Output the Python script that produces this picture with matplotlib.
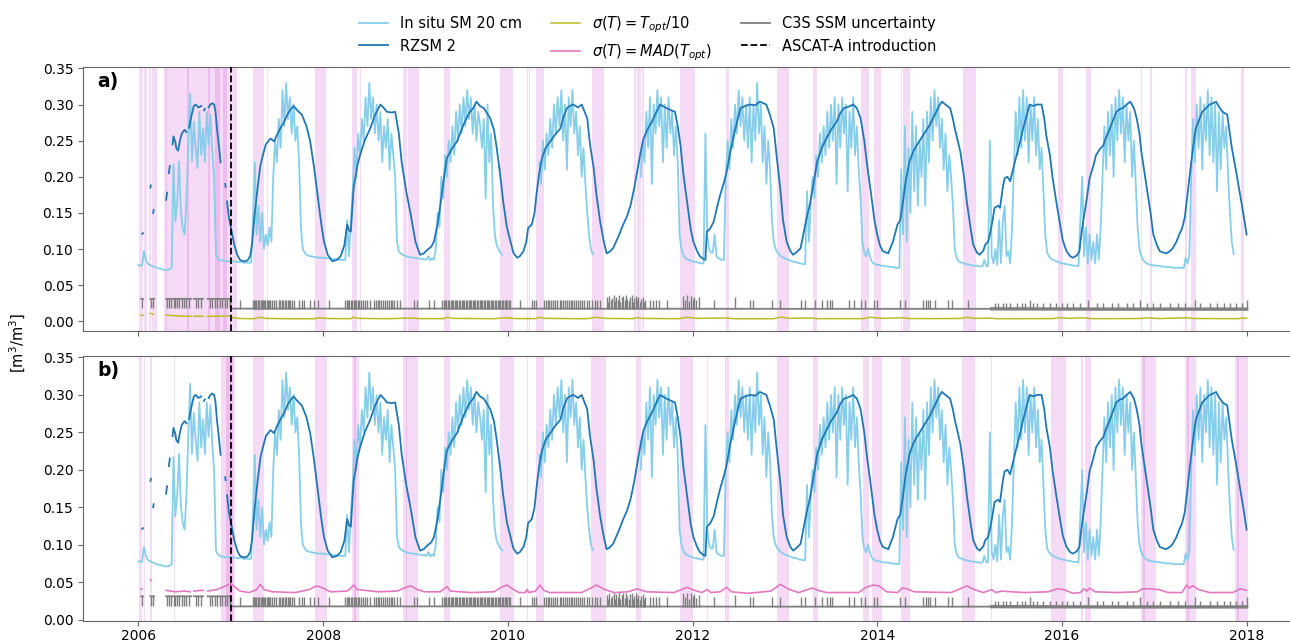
import numpy as np
import matplotlib
matplotlib.use('Agg')
import matplotlib.pyplot as plt

nan = np.nan

# in situ soil moisture at 20 cm, one row per year, one value every 0.02 yr
insitu_years = list(range(2006, 2018))
insitu_sm = [
    # 2006
    0.078, 0.077, 0.077, 0.097, 0.086, 0.080, 0.078, 0.077, 0.076, 0.075,
    0.074, 0.073, 0.073, 0.072, 0.071, 0.071, 0.071, 0.072, 0.074, 0.217,
    0.138, 0.166, 0.221, 0.152, 0.129, 0.120, 0.166, 0.244, 0.315, 0.221,
    0.276, 0.240, 0.212, 0.290, 0.230, 0.267, 0.221, 0.290, 0.244, 0.286,
    0.235, 0.198, 0.092, 0.087, 0.085, 0.084, 0.084, 0.083, 0.083, 0.083,
    # 2007
    0.083, 0.083, 0.083, 0.082, 0.082, 0.082, 0.082, 0.081, 0.081, 0.081,
    0.081, 0.081, 0.140, 0.220, 0.120, 0.160, 0.110, 0.150, 0.100, 0.120,
    0.105, 0.130, 0.110, 0.200, 0.250, 0.220, 0.280, 0.240, 0.320, 0.270,
    0.330, 0.280, 0.310, 0.260, 0.300, 0.250, 0.270, 0.220, 0.130, 0.100,
    0.095, 0.092, 0.091, 0.090, 0.090, 0.089, 0.089, 0.088, 0.088, 0.088,
    # 2008
    0.088, 0.088, 0.087, 0.087, 0.087, 0.086, 0.086, 0.086, 0.086, 0.085,
    0.085, 0.085, 0.085, 0.140, 0.090, 0.140, 0.180, 0.240, 0.200, 0.260,
    0.230, 0.280, 0.250, 0.310, 0.270, 0.330, 0.280, 0.310, 0.260, 0.300,
    0.250, 0.290, 0.220, 0.270, 0.240, 0.280, 0.210, 0.260, 0.230, 0.200,
    0.110, 0.097, 0.094, 0.092, 0.091, 0.090, 0.089, 0.089, 0.088, 0.088,
    # 2009
    0.088, 0.087, 0.087, 0.086, 0.086, 0.086, 0.085, 0.090, 0.084, 0.087,
    0.085, 0.100, 0.150, 0.130, 0.200, 0.170, 0.230, 0.200, 0.250, 0.220,
    0.270, 0.230, 0.290, 0.250, 0.300, 0.260, 0.310, 0.270, 0.320, 0.280,
    0.310, 0.260, 0.300, 0.250, 0.290, 0.270, 0.240, 0.280, 0.170, 0.300,
    0.220, 0.260, 0.160, 0.120, 0.105, 0.100, 0.095, 0.092, nan, nan,
    # 2010
    nan, nan, nan, nan, nan, nan, nan, nan, nan, nan,
    nan, nan, nan, nan, nan, nan, nan, 0.220, 0.190, 0.250,
    0.210, 0.260, 0.230, 0.280, 0.240, 0.300, 0.260, 0.310, 0.270, 0.320,
    0.250, 0.300, 0.210, 0.310, 0.270, 0.320, 0.260, 0.290, 0.230, 0.270,
    0.200, 0.240, 0.190, 0.150, 0.120, 0.100, 0.093, nan, nan, nan,
    # 2011
    nan, nan, nan, nan, nan, nan, nan, nan, nan, nan,
    nan, nan, nan, nan, nan, nan, nan, nan, nan, nan,
    nan, nan, 0.200, 0.250, 0.220, 0.290, 0.240, 0.310, 0.190, 0.300,
    0.260, 0.320, 0.270, 0.310, 0.220, 0.300, 0.240, 0.310, 0.260, 0.290,
    0.230, 0.270, 0.220, 0.120, 0.100, 0.092, 0.088, 0.086, 0.085, 0.084,
    # 2012
    0.083, 0.082, 0.082, 0.081, 0.081, 0.080, 0.080, 0.260, 0.120, 0.100,
    0.095, 0.095, 0.120, 0.090, 0.087, 0.086, 0.085, 0.085, 0.200, 0.250,
    0.210, 0.280, 0.240, 0.300, 0.260, 0.320, 0.270, 0.310, 0.250, 0.300,
    0.240, 0.310, 0.220, 0.300, 0.250, 0.330, 0.260, 0.300, 0.220, 0.270,
    0.190, 0.250, 0.210, 0.140, 0.110, 0.100, 0.095, 0.092, 0.090, 0.088,
    # 2013
    0.087, 0.086, 0.085, 0.084, 0.083, 0.082, 0.082, 0.081, 0.080, 0.080,
    0.079, 0.079, 0.180, 0.110, 0.160, 0.200, 0.170, 0.230, 0.200, 0.260,
    0.220, 0.270, 0.230, 0.290, 0.240, 0.300, 0.250, 0.310, 0.190, 0.300,
    0.240, 0.310, 0.260, 0.300, 0.180, 0.290, 0.240, 0.310, 0.230, 0.270,
    0.210, 0.170, 0.110, 0.095, 0.090, 0.100, 0.090, 0.083, 0.080, 0.079,
    # 2014
    0.078, 0.078, 0.077, 0.077, 0.076, 0.076, 0.076, 0.075, 0.075, 0.075,
    0.074, 0.074, 0.074, 0.210, 0.120, 0.270, 0.110, 0.240, 0.150, 0.290,
    0.180, 0.270, 0.160, 0.250, 0.200, 0.280, 0.160, 0.290, 0.220, 0.310,
    0.250, 0.320, 0.270, 0.310, 0.240, 0.280, 0.210, 0.260, 0.180, 0.230,
    0.200, 0.160, 0.100, 0.088, 0.083, 0.082, 0.081, 0.080, 0.079, 0.079,
    # 2015
    0.078, 0.078, 0.077, 0.077, 0.077, 0.076, 0.076, 0.076, 0.085, 0.077,
    0.076, 0.250, 0.090, 0.080, 0.100, 0.078, 0.140, 0.080, 0.138, 0.160,
    0.090, 0.097, 0.080, 0.130, 0.210, 0.290, 0.230, 0.310, 0.240, 0.320,
    0.250, 0.310, 0.220, 0.300, 0.250, 0.310, 0.230, 0.280, 0.210, 0.240,
    0.180, 0.120, 0.095, 0.090, 0.087, 0.085, 0.084, 0.083, 0.082, 0.081,
    # 2016
    0.080, 0.080, 0.079, 0.079, 0.078, 0.078, 0.077, 0.077, 0.077, 0.076,
    0.140, 0.200, 0.090, 0.130, 0.080, 0.120, 0.085, 0.110, 0.080, 0.120,
    0.085, 0.130, 0.200, 0.270, 0.210, 0.290, 0.230, 0.300, 0.200, 0.310,
    0.250, 0.320, 0.260, 0.310, 0.220, 0.300, 0.250, 0.290, 0.200, 0.250,
    0.190, 0.130, 0.100, 0.090, 0.085, 0.082, 0.080, 0.079, 0.078, 0.078,
    # 2017
    0.077, 0.077, 0.077, 0.076, 0.076, 0.076, 0.075, 0.075, 0.075, 0.075,
    0.074, 0.074, 0.074, 0.074, 0.074, 0.074, 0.074, 0.088, 0.080, 0.090,
    0.200, 0.280, 0.220, 0.300, 0.240, 0.310, 0.210, 0.300, 0.250, 0.320,
    0.230, 0.310, 0.220, 0.300, 0.180, 0.290, 0.210, 0.290, 0.240, 0.270,
    0.200, 0.150, 0.110, 0.093, nan, nan, nan, nan, nan, nan,
]

# RZSM 2 (decimal year, value); nan marks gaps
rzsm_pts = [
    (2006.04, 0.121), (2006.05, 0.122), (2006.06, nan),
    (2006.13, 0.185), (2006.135, 0.188), (2006.14, nan),
    (2006.16, 0.150), (2006.165, 0.154), (2006.17, nan),
    (2006.30, 0.168), (2006.31, 0.178), (2006.32, nan),
    (2006.33, 0.205), (2006.34, 0.215), (2006.35, nan),
    (2006.37, 0.245), (2006.38, 0.256), (2006.40, 0.248), (2006.41, 0.240),
    (2006.43, 0.236), (2006.45, 0.250), (2006.47, 0.260), (2006.50, 0.265),
    (2006.52, 0.262), (2006.53, nan),
    (2006.55, 0.268), (2006.57, 0.282), (2006.60, 0.298), (2006.62, 0.300),
    (2006.65, 0.296), (2006.68, 0.298), (2006.69, nan),
    (2006.71, 0.292), (2006.72, 0.294), (2006.73, nan),
    (2006.76, 0.296), (2006.78, 0.300), (2006.80, 0.302), (2006.82, 0.300),
    (2006.835, 0.290), (2006.85, 0.267), (2006.87, 0.245), (2006.89, 0.220),
    (2006.90, nan),
    (2006.94, 0.190), (2006.945, 0.186), (2006.95, nan),
    (2006.96, 0.166), (2006.98, 0.143), (2007.01, 0.124), (2007.04, 0.105),
    (2007.07, 0.092), (2007.10, 0.085), (2007.14, 0.083), (2007.18, 0.084),
    (2007.21, 0.090), (2007.23, 0.106), (2007.26, 0.150), (2007.29, 0.184),
    (2007.32, 0.215), (2007.34, 0.226), (2007.38, 0.245), (2007.43, 0.253),
    (2007.47, 0.249), (2007.50, 0.258), (2007.54, 0.268), (2007.57, 0.274),
    (2007.62, 0.288), (2007.66, 0.295), (2007.68, 0.298), (2007.72, 0.292),
    (2007.77, 0.286), (2007.82, 0.270), (2007.86, 0.249), (2007.90, 0.215),
    (2007.94, 0.175), (2007.98, 0.135),
    (2008.01, 0.110), (2008.05, 0.092), (2008.10, 0.083), (2008.15, 0.085),
    (2008.19, 0.090), (2008.23, 0.105), (2008.26, 0.134), (2008.28, 0.126),
    (2008.30, 0.124), (2008.33, 0.184), (2008.37, 0.215), (2008.40, 0.230),
    (2008.45, 0.250), (2008.51, 0.267), (2008.56, 0.285), (2008.62, 0.300),
    (2008.66, 0.295), (2008.69, 0.290), (2008.74, 0.289), (2008.78, 0.290),
    (2008.82, 0.260), (2008.85, 0.221), (2008.90, 0.180), (2008.95, 0.147),
    (2009.00, 0.110), (2009.05, 0.092), (2009.09, 0.094), (2009.13, 0.099),
    (2009.17, 0.103), (2009.20, 0.110), (2009.24, 0.135), (2009.27, 0.161),
    (2009.31, 0.200), (2009.34, 0.226), (2009.40, 0.240), (2009.45, 0.249),
    (2009.52, 0.272), (2009.58, 0.288), (2009.63, 0.296), (2009.66, 0.304),
    (2009.70, 0.298), (2009.74, 0.295), (2009.81, 0.281), (2009.85, 0.265),
    (2009.88, 0.240), (2009.92, 0.200), (2009.95, 0.166), (2009.99, 0.130),
    (2010.03, 0.110), (2010.06, 0.095), (2010.10, 0.088), (2010.13, 0.090),
    (2010.17, 0.097), (2010.20, 0.110), (2010.22, 0.129), (2010.26, 0.134),
    (2010.29, 0.150), (2010.31, 0.175), (2010.34, 0.205), (2010.37, 0.226),
    (2010.41, 0.240), (2010.46, 0.249), (2010.51, 0.258), (2010.57, 0.267),
    (2010.60, 0.282), (2010.64, 0.295), (2010.67, 0.298), (2010.71, 0.300),
    (2010.76, 0.296), (2010.80, 0.300), (2010.86, 0.281), (2010.89, 0.245),
    (2010.93, 0.212), (2010.96, 0.175),
    (2011.00, 0.138), (2011.04, 0.110), (2011.07, 0.094), (2011.10, 0.096),
    (2011.14, 0.101), (2011.20, 0.118), (2011.25, 0.134), (2011.29, 0.145),
    (2011.33, 0.161), (2011.37, 0.185), (2011.40, 0.207), (2011.44, 0.235),
    (2011.47, 0.253), (2011.51, 0.265), (2011.56, 0.276), (2011.61, 0.290),
    (2011.65, 0.300), (2011.69, 0.297), (2011.72, 0.295), (2011.77, 0.292),
    (2011.81, 0.290), (2011.84, 0.270), (2011.87, 0.244), (2011.90, 0.205),
    (2011.94, 0.166), (2011.98, 0.128),
    (2012.01, 0.110), (2012.05, 0.097), (2012.08, 0.090), (2012.12, 0.086),
    (2012.14, 0.085), (2012.155, 0.124), (2012.19, 0.128), (2012.23, 0.138),
    (2012.27, 0.160), (2012.30, 0.175), (2012.34, 0.192), (2012.37, 0.207),
    (2012.41, 0.235), (2012.44, 0.253), (2012.48, 0.275), (2012.52, 0.295),
    (2012.57, 0.298), (2012.62, 0.300), (2012.68, 0.299), (2012.73, 0.304),
    (2012.80, 0.300), (2012.84, 0.285), (2012.88, 0.267), (2012.91, 0.230),
    (2012.95, 0.184), (2012.98, 0.140),
    (2013.02, 0.110), (2013.06, 0.097), (2013.09, 0.092), (2013.13, 0.096),
    (2013.17, 0.101), (2013.20, 0.120), (2013.23, 0.140), (2013.27, 0.161),
    (2013.31, 0.190), (2013.35, 0.221), (2013.40, 0.240), (2013.45, 0.253),
    (2013.50, 0.265), (2013.56, 0.276), (2013.60, 0.288), (2013.64, 0.295),
    (2013.69, 0.297), (2013.74, 0.300), (2013.78, 0.295), (2013.82, 0.281),
    (2013.86, 0.250), (2013.89, 0.217), (2013.93, 0.180), (2013.97, 0.140),
    (2014.00, 0.120), (2014.03, 0.105), (2014.06, 0.097), (2014.12, 0.094),
    (2014.17, 0.110), (2014.22, 0.134), (2014.25, 0.140), (2014.28, 0.166),
    (2014.31, 0.195), (2014.35, 0.221), (2014.39, 0.235), (2014.43, 0.244),
    (2014.46, 0.250), (2014.50, 0.258), (2014.57, 0.272), (2014.64, 0.290),
    (2014.67, 0.298), (2014.70, 0.304), (2014.74, 0.300), (2014.79, 0.295),
    (2014.82, 0.280), (2014.84, 0.267), (2014.90, 0.235), (2014.94, 0.200),
    (2014.97, 0.166),
    (2015.01, 0.130), (2015.04, 0.106), (2015.08, 0.095), (2015.11, 0.092),
    (2015.15, 0.098), (2015.17, 0.106), (2015.20, 0.110), (2015.22, 0.120),
    (2015.25, 0.140), (2015.27, 0.157), (2015.31, 0.160), (2015.33, 0.157),
    (2015.36, 0.185), (2015.38, 0.198), (2015.41, 0.200), (2015.44, 0.194),
    (2015.48, 0.215), (2015.51, 0.230), (2015.55, 0.250), (2015.58, 0.267),
    (2015.62, 0.285), (2015.65, 0.300), (2015.69, 0.298), (2015.73, 0.300),
    (2015.78, 0.300), (2015.81, 0.280), (2015.83, 0.258), (2015.87, 0.230),
    (2015.90, 0.198), (2015.94, 0.165), (2015.98, 0.134),
    (2016.01, 0.112), (2016.05, 0.097), (2016.09, 0.090), (2016.12, 0.088),
    (2016.16, 0.091), (2016.19, 0.097), (2016.21, 0.120), (2016.23, 0.138),
    (2016.27, 0.170), (2016.30, 0.198), (2016.34, 0.215), (2016.37, 0.230),
    (2016.41, 0.238), (2016.45, 0.244), (2016.48, 0.255), (2016.52, 0.267),
    (2016.56, 0.280), (2016.59, 0.290), (2016.63, 0.294), (2016.66, 0.295),
    (2016.70, 0.300), (2016.74, 0.304), (2016.78, 0.295), (2016.81, 0.281),
    (2016.84, 0.260), (2016.86, 0.235), (2016.89, 0.210), (2016.92, 0.184),
    (2016.96, 0.150), (2016.99, 0.120),
    (2017.03, 0.105), (2017.06, 0.097), (2017.10, 0.095), (2017.13, 0.094),
    (2017.17, 0.097), (2017.20, 0.101), (2017.24, 0.110), (2017.27, 0.120),
    (2017.30, 0.128), (2017.33, 0.143), (2017.36, 0.175), (2017.38, 0.198),
    (2017.42, 0.240), (2017.45, 0.267), (2017.49, 0.280), (2017.52, 0.290),
    (2017.56, 0.295), (2017.60, 0.300), (2017.64, 0.302), (2017.67, 0.304),
    (2017.70, 0.297), (2017.74, 0.290), (2017.79, 0.286), (2017.84, 0.240),
    (2017.89, 0.205), (2017.93, 0.175), (2017.97, 0.145), (2018.00, 0.120),
]

# C3S SSM uncertainty: baseline level plus spikes
unc_base = [
    (2006.03, 0.031), (2006.05, 0.031), (2006.06, nan),
    (2006.13, 0.031), (2006.17, 0.031), (2006.18, nan),
    (2006.30, 0.031), (2006.57, 0.031), (2006.58, nan),
    (2006.60, 0.031), (2006.70, 0.031), (2006.71, nan),
    (2006.75, 0.031), (2006.995, 0.031), (2007.0, 0.0175),
    (2010.0, 0.0175), (2013.0, 0.0172), (2015.24, 0.0172),
]
unc_late = [(2015.24, 0.0172), (2016.5, 0.0168), (2018.0, 0.0168)]

spike_down_2006 = [2006.04, 2006.14, 2006.16, 2006.31, 2006.33, 2006.35, 2006.38,
                   2006.40, 2006.42, 2006.44, 2006.47, 2006.49, 2006.52, 2006.55,
                   2006.62, 2006.65, 2006.68, 2006.77, 2006.80, 2006.83, 2006.85,
                   2006.88, 2006.91, 2006.94, 2006.96]
spike_030 = [
    2007.105, 2007.24, 2007.25, 2007.26, 2007.275, 2007.29, 2007.30, 2007.31,
    2007.325, 2007.34, 2007.35, 2007.36, 2007.375, 2007.39, 2007.40, 2007.415,
    2007.43, 2007.445, 2007.466, 2007.49, 2007.52, 2007.538, 2007.556, 2007.57,
    2007.585, 2007.60, 2007.615, 2007.63, 2007.645, 2007.66, 2007.682, 2007.736,
    2007.773, 2007.798, 2007.856, 2007.90, 2007.942,
    2008.06, 2008.24, 2008.255, 2008.27, 2008.285, 2008.30, 2008.315, 2008.33,
    2008.345, 2008.36, 2008.375, 2008.39, 2008.41, 2008.43, 2008.45, 2008.47,
    2008.513, 2008.55, 2008.57, 2008.59, 2008.61, 2008.63, 2008.65, 2008.67,
    2008.69, 2008.71, 2008.73, 2008.75, 2008.77, 2008.80, 2008.83, 2008.98,
    2009.02, 2009.144, 2009.20,
    2009.29, 2009.305, 2009.32, 2009.335, 2009.35, 2009.365, 2009.38, 2009.395,
    2009.41, 2009.425, 2009.44, 2009.455, 2009.47, 2009.485, 2009.50, 2009.515,
    2009.53, 2009.545, 2009.56, 2009.575, 2009.59, 2009.605, 2009.62, 2009.635,
    2009.65, 2009.665, 2009.68, 2009.695, 2009.71, 2009.725, 2009.74, 2009.755,
    2009.77, 2009.785, 2009.80, 2009.815, 2009.83, 2009.845, 2009.86, 2009.875,
    2009.89, 2009.905, 2009.92, 2009.935, 2009.95, 2009.965, 2009.98, 2009.995,
    2010.01, 2010.025, 2010.13, 2010.26, 2010.285, 2010.31,
    2010.39, 2010.41, 2010.43, 2010.45, 2010.47, 2010.49, 2010.51, 2010.53,
    2010.56, 2010.58, 2010.60, 2010.62, 2010.64, 2010.66, 2010.68, 2010.70,
    2010.72, 2010.74, 2010.76, 2010.78, 2010.80, 2010.83, 2010.86, 2010.88,
    2010.91, 2010.94, 2010.97, 2011.00,
    2011.54, 2011.57, 2011.60, 2011.64, 2011.72,
    2012.23, 2012.625, 2012.66, 2012.86, 2012.95,
    2013.18, 2013.22, 2013.33, 2013.40, 2013.455, 2013.49, 2013.51, 2013.69,
    2013.744, 2013.83, 2013.87, 2013.96, 2014.00,
    2014.245, 2014.30, 2014.50, 2014.527, 2014.552, 2014.57, 2014.625, 2014.77,
    2014.805, 2014.978,
    2015.653, 2016.285, 2016.85, 2017.44, 2018.0,
]
spike_tall = [
    (2011.07, 0.033), (2011.085, 0.027), (2011.10, 0.035), (2011.115, 0.029),
    (2011.13, 0.032), (2011.145, 0.036), (2011.16, 0.028), (2011.175, 0.034),
    (2011.19, 0.030), (2011.205, 0.037), (2011.22, 0.027), (2011.235, 0.033),
    (2011.25, 0.035), (2011.265, 0.029), (2011.28, 0.036), (2011.295, 0.031),
    (2011.31, 0.028), (2011.325, 0.034), (2011.34, 0.036), (2011.355, 0.027),
    (2011.37, 0.032), (2011.385, 0.035), (2011.40, 0.029), (2011.415, 0.033),
    (2011.43, 0.026), (2011.445, 0.031), (2011.46, 0.034), (2011.475, 0.027),
    (2011.49, 0.030), (2011.90, 0.035), (2011.92, 0.030), (2011.94, 0.036),
    (2011.96, 0.028), (2011.98, 0.035), (2012.00, 0.031), (2012.02, 0.034),
    (2012.04, 0.029), (2012.065, 0.033), (2012.46, 0.033),
]
spike_025 = [
    2015.274, 2015.31, 2015.365, 2015.40, 2015.437, 2015.51, 2015.563, 2015.60,
    2015.69, 2015.726, 2015.80, 2015.87, 2015.94, 2015.996, 2016.05, 2016.12,
    2016.195, 2016.375, 2016.448, 2016.54, 2016.61, 2016.70, 2016.77, 2016.917,
    2016.99, 2017.06, 2017.17, 2017.26, 2017.33, 2017.495, 2017.60, 2017.675,
    2017.75, 2017.82, 2017.89, 2017.946,
]

# sigma(T) = T_opt / 10
topt_pts = [
    (2006.03, 0.0085), (2006.05, 0.0080), (2006.06, nan),
    (2006.13, 0.0110), (2006.16, 0.0100), (2006.17, nan),
    (2006.30, 0.0085), (2006.45, 0.0072), (2006.57, 0.0068), (2006.58, nan),
    (2006.60, 0.0070), (2006.70, 0.0068), (2006.71, nan),
    (2006.75, 0.0068), (2006.90, 0.0070), (2007.00, 0.0075),
    (2007.02, 0.0048), (2007.10, 0.0038), (2007.25, 0.0035), (2007.32, 0.0055),
    (2007.38, 0.0040), (2007.60, 0.0035), (2007.90, 0.0035), (2007.96, 0.0048),
    (2008.05, 0.0038), (2008.30, 0.0035), (2008.33, 0.0055), (2008.38, 0.0040),
    (2008.70, 0.0035), (2008.95, 0.0045), (2009.05, 0.0036), (2009.30, 0.0036),
    (2009.35, 0.0055), (2009.40, 0.0040), (2009.85, 0.0035), (2009.98, 0.0050),
    (2010.08, 0.0037), (2010.30, 0.0036), (2010.35, 0.0055), (2010.40, 0.0040),
    (2010.85, 0.0035), (2010.96, 0.0055), (2011.05, 0.0040), (2011.35, 0.0036),
    (2011.40, 0.0050), (2011.45, 0.0040), (2011.85, 0.0035), (2011.94, 0.0055),
    (2012.05, 0.0040), (2012.37, 0.0045), (2012.45, 0.0035), (2012.88, 0.0035),
    (2012.95, 0.0058), (2013.05, 0.0040), (2013.28, 0.0045), (2013.35, 0.0036),
    (2013.85, 0.0036), (2013.93, 0.0055), (2014.05, 0.0040), (2014.28, 0.0048),
    (2014.35, 0.0037), (2014.90, 0.0038), (2014.97, 0.0055), (2015.06, 0.0040),
    (2015.24, 0.0042), (2015.30, 0.0035), (2015.90, 0.0037), (2015.98, 0.0050),
    (2016.08, 0.0040), (2016.25, 0.0048), (2016.32, 0.0036), (2016.85, 0.0038),
    (2016.93, 0.0048), (2017.05, 0.0037), (2017.35, 0.0048), (2017.42, 0.0038),
    (2017.90, 0.0036), (2017.97, 0.0045), (2018.00, 0.0044),
]

# sigma(T) = MAD(T_opt)
mad_pts = [
    (2006.03, 0.041), (2006.04, 0.041), (2006.05, nan),
    (2006.13, 0.053), (2006.14, 0.052), (2006.15, nan),
    (2006.30, 0.039), (2006.40, 0.037), (2006.50, 0.038), (2006.56, 0.037), (2006.57, nan),
    (2006.60, 0.038), (2006.70, 0.039), (2006.71, nan),
    (2006.75, 0.038), (2006.85, 0.040), (2006.93, 0.044), (2007.00, 0.048),
    (2007.04, 0.044), (2007.10, 0.038), (2007.20, 0.036), (2007.28, 0.040),
    (2007.32, 0.047), (2007.36, 0.040), (2007.45, 0.037), (2007.70, 0.036),
    (2007.85, 0.040), (2007.93, 0.045), (2008.00, 0.042), (2008.08, 0.037),
    (2008.26, 0.038), (2008.30, 0.042), (2008.33, 0.046), (2008.37, 0.040),
    (2008.45, 0.039), (2008.60, 0.037), (2008.80, 0.038), (2008.90, 0.043),
    (2008.95, 0.045), (2009.02, 0.040), (2009.10, 0.037), (2009.27, 0.037),
    (2009.34, 0.044), (2009.38, 0.038), (2009.60, 0.036), (2009.85, 0.037),
    (2009.93, 0.043), (2009.99, 0.046), (2010.05, 0.041), (2010.12, 0.036),
    (2010.19, 0.036), (2010.21, 0.040), (2010.23, 0.036), (2010.30, 0.038),
    (2010.35, 0.046), (2010.39, 0.039), (2010.45, 0.036), (2010.80, 0.036),
    (2010.90, 0.042), (2010.96, 0.046), (2011.05, 0.040), (2011.15, 0.036),
    (2011.30, 0.037), (2011.40, 0.041), (2011.50, 0.037), (2011.80, 0.036),
    (2011.88, 0.040), (2011.94, 0.043), (2012.02, 0.039), (2012.10, 0.036),
    (2012.16, 0.040), (2012.20, 0.036), (2012.30, 0.037), (2012.37, 0.043),
    (2012.42, 0.037), (2012.60, 0.035), (2012.85, 0.038), (2012.95, 0.047),
    (2013.05, 0.040), (2013.15, 0.036), (2013.22, 0.039), (2013.30, 0.042),
    (2013.36, 0.039), (2013.45, 0.036), (2013.80, 0.036), (2013.88, 0.043),
    (2013.95, 0.046), (2014.02, 0.045), (2014.10, 0.037), (2014.22, 0.036),
    (2014.27, 0.042), (2014.32, 0.041), (2014.40, 0.037), (2014.80, 0.036),
    (2014.90, 0.041), (2014.97, 0.045), (2015.05, 0.040), (2015.15, 0.036),
    (2015.24, 0.040), (2015.28, 0.036), (2015.35, 0.038), (2015.45, 0.037),
    (2015.60, 0.036), (2015.85, 0.037), (2015.95, 0.041), (2016.02, 0.040),
    (2016.12, 0.035), (2016.20, 0.036), (2016.24, 0.041), (2016.27, 0.038),
    (2016.30, 0.042), (2016.36, 0.037), (2016.60, 0.036), (2016.82, 0.037),
    (2016.87, 0.041), (2016.95, 0.041), (2017.05, 0.040), (2017.15, 0.036),
    (2017.30, 0.036), (2017.35, 0.046), (2017.38, 0.042), (2017.42, 0.045),
    (2017.48, 0.040), (2017.60, 0.036), (2017.85, 0.036), (2017.93, 0.041),
    (2018.00, 0.039),
]

# flagged periods (start, end) in each panel
spans_a = [
    (2006.005, 2006.045), (2006.06, 2006.09), (2006.11, 2006.14), (2006.15, 2006.20),
    (2006.28, 2007.07), (2006.295, 2006.305), (2006.53, 2006.55),
    (2006.75, 2006.77), (2006.83, 2006.88), (2006.92, 2006.96),
    (2007.24, 2007.36), (2007.39, 2007.40), (2007.91, 2008.03),
    (2008.31, 2008.37), (2008.40, 2008.41), (2008.86, 2008.91), (2008.92, 2009.04),
    (2009.22, 2009.225), (2009.31, 2009.37), (2009.92, 2010.06),
    (2010.21, 2010.215), (2010.23, 2010.235), (2010.31, 2010.39), (2010.91, 2011.04),
    (2011.37, 2011.39), (2011.40, 2011.44), (2011.45, 2011.47), (2011.87, 2012.03),
    (2012.36, 2012.39), (2012.46, 2012.465), (2012.92, 2013.05), (2013.31, 2013.35),
    (2013.83, 2013.91), (2013.96, 2014.04), (2014.26, 2014.265), (2014.28, 2014.35),
    (2014.93, 2015.07), (2015.24, 2015.245), (2015.96, 2016.01), (2016.26, 2016.31),
    (2016.86, 2016.87), (2016.95, 2016.98), (2017.33, 2017.36), (2017.40, 2017.45),
    (2017.94, 2017.97),
]
spans_b = [
    (2006.01, 2006.04), (2006.06, 2006.07), (2006.13, 2006.15), (2006.38, 2006.40),
    (2006.89, 2007.05), (2006.95, 2007.02), (2007.24, 2007.36), (2007.91, 2008.04),
    (2008.26, 2008.263), (2008.31, 2008.39), (2008.33, 2008.36), (2008.86, 2009.03),
    (2008.90, 2008.91), (2009.31, 2009.37), (2009.92, 2010.07), (2010.21, 2010.215),
    (2010.31, 2010.39), (2010.90, 2011.06), (2011.39, 2011.44), (2011.87, 2012.00),
    (2012.16, 2012.163), (2012.35, 2012.40), (2012.91, 2013.05), (2013.24, 2013.243),
    (2013.31, 2013.36), (2013.85, 2013.91), (2013.94, 2014.05), (2014.26, 2014.36),
    (2014.92, 2015.06), (2015.23, 2015.24), (2015.88, 2016.04), (2016.21, 2016.23),
    (2016.25, 2016.31), (2016.86, 2017.02), (2016.88, 2016.90), (2017.33, 2017.45),
    (2017.36, 2017.38), (2017.47, 2017.473), (2017.87, 2018.01), (2017.90, 2017.92),
]

ascat_start = 2007.0
x_ticks = [2006, 2008, 2010, 2012, 2014, 2016, 2018]

# ---- prepare arrays
t_insitu = np.concatenate([y + np.arange(50) / 50.0 for y in insitu_years])
rzsm_t, rzsm_v = map(np.array, zip(*rzsm_pts))
base_t, base_v = map(np.array, zip(*unc_base))
late_t, late_v = map(np.array, zip(*unc_late))
topt_t, topt_v = map(np.array, zip(*topt_pts))
mad_t, mad_v = map(np.array, zip(*mad_pts))
tall_t, tall_v = map(np.array, zip(*spike_tall))

ok = ~np.isnan(base_v)
bt = np.concatenate([base_t[ok], late_t])
bv = np.concatenate([base_v[ok], late_v])


def level_at(t):
    return np.interp(t, bt, bv)


def draw_common(ax, spans):
    for s, e in spans:
        ax.axvspan(s, e, color='m', alpha=0.14, lw=0, zorder=0)
    l_ins, = ax.plot(t_insitu, insitu_sm, color='skyblue', lw=1.3, zorder=2)
    l_rz, = ax.plot(rzsm_t, rzsm_v, color='tab:blue', lw=1.3, zorder=3)
    gc = 'tab:gray'
    l_unc, = ax.plot(base_t, base_v, color=gc, lw=1.3, zorder=2)
    ax.plot(late_t, late_v, color=gc, lw=2.4, zorder=2)
    for ts, top in [(spike_down_2006, 0.018), (spike_030, 0.030), (spike_025, 0.025)]:
        ts = np.array(ts)
        ax.vlines(ts, level_at(ts), top, color=gc, lw=1.0, zorder=2)
    ax.vlines(tall_t, level_at(tall_t), tall_v, color=gc, lw=1.0, zorder=2)
    l_asc = ax.axvline(ascat_start, color='k', ls='--', lw=1.3, zorder=4)
    ax.set_xlim(2005.4, 2018.6)
    ax.set_xticks(x_ticks)
    ax.set_yticks(np.arange(0, 0.36, 0.05))
    ax.tick_params(labelsize=10, color='0.4')
    for sp in ax.spines.values():
        sp.set_color('0.4')
    return l_ins, l_rz, l_unc, l_asc


fig = plt.figure(figsize=(12.9, 6.41), dpi=100)
W, H = 1290.0, 641.0
ax_a = fig.add_axes([83 / W, 1 - 331 / H, (1302 - 83) / W, (331 - 67) / H])
ax_b = fig.add_axes([83 / W, 1 - 621 / H, (1302 - 83) / W, (621 - 356) / H])

l_ins, l_rz, l_unc, l_asc = draw_common(ax_a, spans_a)
l_topt, = ax_a.plot(topt_t, topt_v, color='tab:olive', lw=1.1, zorder=2)
ax_a.set_ylim(-0.0135, 0.352)
ax_a.set_xticklabels([])

draw_common(ax_b, spans_b)
l_mad, = ax_b.plot(mad_t, mad_v, color='tab:pink', lw=1.2, zorder=3)
ax_b.set_ylim(-0.002, 0.352)
ax_b.set_xticklabels([str(x) for x in x_ticks])
ax_b.tick_params(axis='x', pad=2.5)

for ax, lab in [(ax_a, 'a)'), (ax_b, 'b)')]:
    ax.text(0.012, 0.944, lab, transform=ax.transAxes, fontsize=13.5,
            fontweight='bold', va='center', ha='left')

fig.text(18 / W, 1 - 343 / H, '[m$^3$/m$^3$]', rotation=90, va='center',
         ha='center', fontsize=10.5)

handles = [l_ins, l_rz, l_topt, l_mad, l_unc, l_asc]
labels = ['In situ SM 20 cm', 'RZSM 2', r'$\sigma(T) = T_{opt}/10$',
          r'$\sigma(T) = MAD(T_{opt})$', 'C3S SSM uncertainty', 'ASCAT-A introduction']
fig.legend(handles, labels, loc='upper center', bbox_to_anchor=(0.502, 0.998),
           ncol=3, frameon=False, fontsize=10.5)

fig.savefig('out.png', dpi=100)
